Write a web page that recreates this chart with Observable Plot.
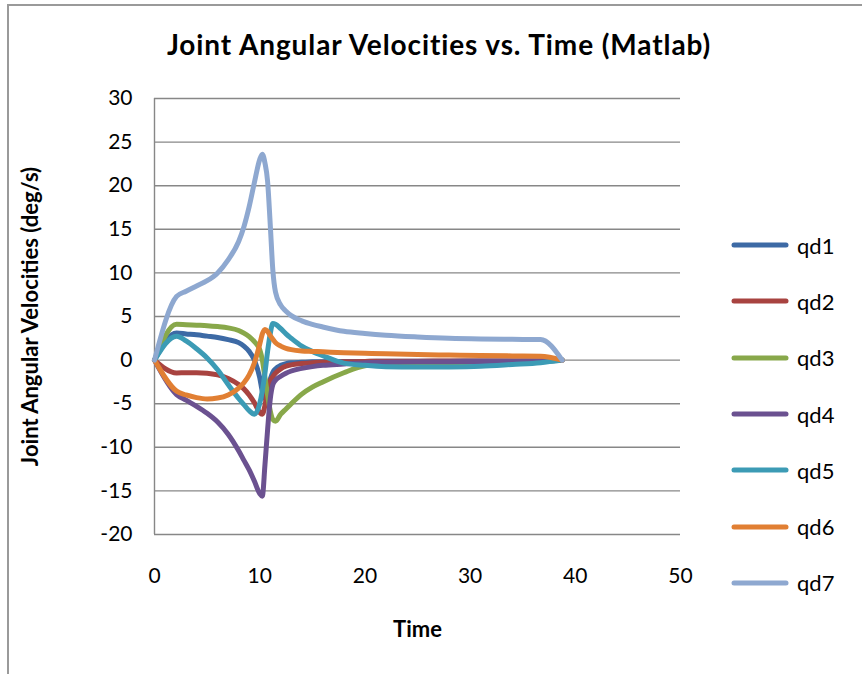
<!DOCTYPE html>
<html>
<head>
<meta charset="utf-8">
<script src="https://cdn.jsdelivr.net/npm/d3@7"></script>
<script src="https://cdn.jsdelivr.net/npm/@observablehq/plot@0.6"></script>
<style>
  html, body { margin: 0; padding: 0; background: #fff; }
  #chart { position: relative; width: 862px; height: 674px; font-family: Lato, "Open Sans", sans-serif; overflow: hidden; }
  #frame { position: absolute; left: 7px; top: 4px; right: -4px; bottom: -4px; border-left: 2px solid #9a9a9a; border-top: 2px solid #9a9a9a; pointer-events: none; }
  #title { position: absolute; left: 439px; top: 27px; transform: translateX(-50%); white-space: nowrap; font-weight: 700; font-size: 28px; letter-spacing: 0.9px; color: #000; }
  #legend { position: absolute; left: 731px; top: 217px; }
  .item { display: flex; align-items: center; height: 56.3px; font-size: 22px; color: #000; }
  .item svg { margin-right: 8px; }
  #plot { position: absolute; left: 0; top: 0; }
</style>
</head>
<body>
<div id="chart">
  <div id="plot"></div>
  <div id="title">Joint Angular Velocities vs. Time (Matlab)</div>
  <div id="legend"></div>
  <div id="frame"></div>
</div>
<script>
// Sample times (s) shared by all joints
const time = [0, 2.1, 3, 4, 5, 6, 7, 8, 8.5, 9, 9.5, 10, 10.25, 10.5, 10.75, 11, 11.25, 11.5, 12, 12.5, 13, 14, 15, 16, 18, 20, 22, 25, 28, 31, 34, 36.7, 38.75];

// Joint angular velocities (deg/s) at each sample time
const qd1 = [0, 3.1, 3.0, 2.9, 2.75, 2.6, 2.35, 2.0, 1.6, 1.0, 0.0, -2.0, -3.6, -4.4, -3.4, -2.2, -1.4, -1.0, -0.6, -0.4, -0.3, -0.25, -0.2, -0.18, -0.15, -0.15, -0.14, -0.13, -0.12, -0.11, -0.1, -0.1, 0];
const qd2 = [0, -1.47, -1.45, -1.45, -1.5, -1.7, -2.1, -2.8, -3.3, -4.0, -4.9, -6.0, -6.2, -5.2, -3.4, -2.4, -1.9, -1.5, -1.0, -0.7, -0.55, -0.4, -0.3, -0.25, -0.2, -0.15, -0.13, -0.12, -0.11, -0.1, -0.1, -0.1, 0];
const qd3 = [0, 4.1, 4.05, 4.0, 3.95, 3.85, 3.7, 3.4, 3.1, 2.7, 2.1, 1.2, 0.0, -2.0, -4.0, -5.8, -6.8, -7.0, -6.2, -5.6, -5.0, -3.9, -3.1, -2.5, -1.45, -0.65, -0.45, -0.35, -0.3, -0.25, -0.2, -0.15, 0];
const qd4 = [0, -3.95, -4.6, -5.3, -6.1, -7.1, -8.5, -10.4, -11.5, -12.6, -13.9, -15.3, -15.6, -12.0, -8.0, -4.5, -2.8, -2.3, -1.85, -1.5, -1.25, -0.95, -0.75, -0.6, -0.45, -0.3, -0.25, -0.2, -0.18, -0.16, -0.15, -0.13, 0];
const qd5 = [0, 2.74, 2.2, 1.3, 0.25, -1.1, -2.8, -4.4, -5.1, -5.8, -6.2, -5.0, -3.5, -1.5, 1.0, 3.0, 4.2, 4.1, 3.6, 3.0, 2.5, 1.6, 1.0, 0.5, -0.35, -0.6, -0.75, -0.8, -0.78, -0.7, -0.5, -0.3, 0];
const qd6 = [0, -3.56, -4.0, -4.3, -4.45, -4.35, -4.0, -3.2, -2.6, -1.7, -0.3, 1.8, 3.0, 3.5, 3.3, 2.8, 2.4, 2.0, 1.6, 1.35, 1.2, 1.05, 1.0, 0.95, 0.85, 0.78, 0.72, 0.64, 0.58, 0.52, 0.48, 0.45, 0];
const qd7 = [0, 7.3, 7.9, 8.5, 9.1, 10.0, 11.5, 13.6, 15.3, 17.6, 20.4, 23.0, 23.6, 22.6, 20.5, 15.6, 10.3, 7.8, 6.3, 5.6, 5.1, 4.5, 4.1, 3.8, 3.3, 3.05, 2.85, 2.65, 2.5, 2.42, 2.38, 2.35, 0];

const seriesNames = ["qd1", "qd2", "qd3", "qd4", "qd5", "qd6", "qd7"];
const seriesValues = [qd1, qd2, qd3, qd4, qd5, qd6, qd7];
const seriesColors = ["#3d6aa5", "#a84340", "#88a84a", "#6b5190", "#3c9bb5", "#e17f33", "#8ea8d0"];

// Axis ticks
const xTicks = [0, 10, 20, 30, 40, 50];
const yTicks = [-20, -15, -10, -5, 0, 5, 10, 15, 20, 25, 30];

// Long-format table for Plot
const rows = seriesNames.flatMap((name, i) =>
  time.map((t, j) => ({series: name, t, v: seriesValues[i][j]}))
);

const chart = Plot.plot({
  width: 862,
  height: 674,
  marginLeft: 154,
  marginRight: 182,
  marginTop: 98,
  marginBottom: 140,
  style: {fontFamily: "Lato, 'Open Sans', sans-serif", background: "transparent", overflow: "visible"},
  x: {domain: [0, 50]},
  y: {domain: [-20, 30]},
  color: {domain: seriesNames, range: seriesColors},
  marks: [
    Plot.ruleY(yTicks, {stroke: "#878787", strokeWidth: 1.4}),
    Plot.ruleX([0], {stroke: "#878787", strokeWidth: 1.4}),
    Plot.axisY(yTicks, {
      tickSize: 0, tickPadding: 22, fontSize: 21, fill: "#000", tickFormat: d => String(d),
      label: "Joint Angular Velocities (deg/s)", labelAnchor: "center", labelArrow: "none", labelOffset: 132
    }),
    Plot.axisX(xTicks, {
      tickSize: 0, tickPadding: 34, fontSize: 21, fill: "#000", tickFormat: d => String(d),
      label: "Time", labelAnchor: "center", labelArrow: "none", labelOffset: 102
    }),
    Plot.line(rows, {
      x: "t", y: "v", z: "series", stroke: "series",
      strokeWidth: 5, curve: "monotone-x", strokeLinejoin: "round", strokeLinecap: "round"
    })
  ]
});

// Bold axis titles
chart.querySelectorAll("[aria-label='y-axis label'], [aria-label='x-axis label']").forEach(g => {
  g.setAttribute("font-weight", "700");
  g.setAttribute("font-size", "22");
});

document.getElementById("plot").appendChild(chart);

// Legend
const legend = d3.select("#legend");
seriesNames.forEach((name, i) => {
  const item = legend.append("div").attr("class", "item");
  const svg = item.append("svg").attr("width", 58).attr("height", 8);
  svg.append("line").attr("x1", 3).attr("x2", 55).attr("y1", 4).attr("y2", 4)
    .attr("stroke", seriesColors[i]).attr("stroke-width", 5).attr("stroke-linecap", "round");
  item.append("span").text(name);
});
</script>
</body>
</html>
